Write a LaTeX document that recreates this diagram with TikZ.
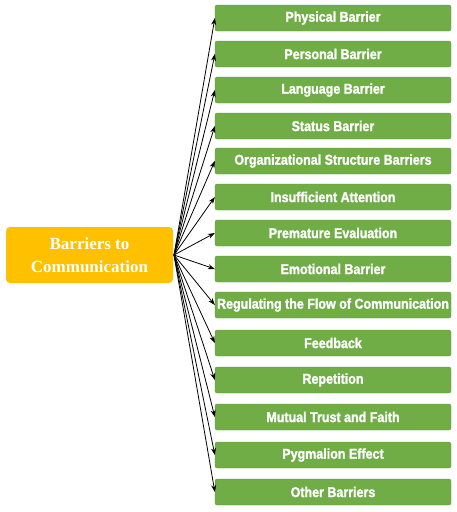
\documentclass[tikz,border=0pt]{standalone}
\usepackage{fontspec}
\setmainfont{Liberation Serif}
\newfontfamily\condfont[FakeStretch=0.88,FakeBold=1.5]{Liberation Sans}
\usetikzlibrary{arrows.meta}
\definecolor{gbox}{HTML}{70AD47}
\definecolor{obox}{HTML}{FFC000}
\tikzset{
  item/.style={draw=gbox!85!black, line width=0.3pt, fill=gbox, rounded corners=2pt, minimum width=236pt, minimum height=26pt, inner sep=0pt, text=white, font=\condfont\bfseries\fontsize{14.2}{16}\selectfont},
  root/.style={fill=obox, rounded corners=4pt, minimum width=167pt, minimum height=56pt, inner sep=0pt, text=white, align=center, font=\bfseries\fontsize{17}{23}\selectfont},
  conn/.style={-{Stealth[length=7pt,width=5pt]}, line width=0.8pt, black}
}
\begin{document}
\begin{tikzpicture}[x=1pt,y=1pt]
\useasboundingbox (0,0) rectangle (456,-512);
\node[root] (r) at (89.5,-255) {Barriers to\\Communication};
\coordinate (o) at (174,-255);
\foreach \n/\y/\t in {
 a/18/Physical Barrier,
 b/54/Personal Barrier,
 c/90/Language Barrier,
 d/126/Status Barrier,
 e/161/Organizational Structure Barriers,
 f/197/Insufficient Attention,
 g/233/Premature Evaluation,
 h/269/Emotional Barrier,
 i/305/Regulating the Flow of Communication,
 j/343/Feedback,
 k/380/Repetition,
 l/417/Mutual Trust and Faith,
 m/455/Pygmalion Effect,
 n/492/Other Barriers}{
  \node[item] (\n) at (333,-\y) {\t};
  \draw[conn] (o) -- (\n.west);
}
\end{tikzpicture}
\end{document}
